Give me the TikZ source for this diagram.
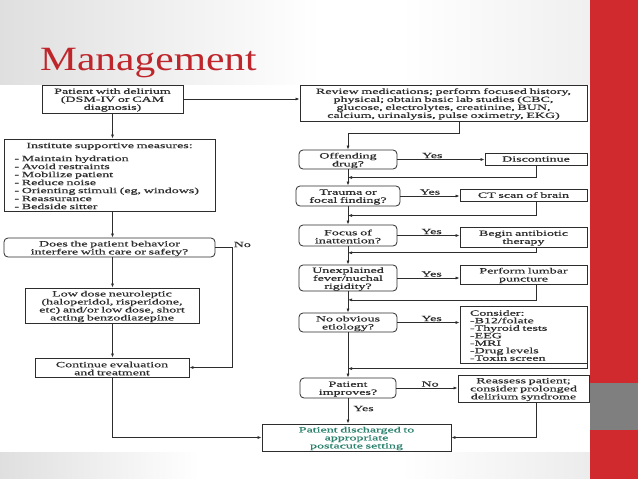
\documentclass[tikz,border=0pt]{standalone}
\usepackage{fontspec}
\usetikzlibrary{arrows.meta,calc}
\setmainfont{Liberation Serif}
\newfontfamily\flowfont[FakeStretch=1.75,FakeBold=0.6]{Liberation Serif}
\newfontfamily\titlefont[FakeStretch=1.22]{Liberation Serif}
\definecolor{slidered}{RGB}{208,41,46}
\definecolor{titlered}{RGB}{190,38,44}
\definecolor{bandgray}{RGB}{127,127,127}
\definecolor{inkgray}{RGB}{45,45,45}
\definecolor{tealtext}{RGB}{45,130,110}
\newcommand\boxdrop{\endgraf\vspace*{-2pt}}

\begin{document}
\begin{tikzpicture}[
    x=1pt, y=-1pt,
    box/.style={rectangle, draw=inkgray, line width=0.8pt, inner sep=1pt,
        font=\flowfont\fontsize{8}{8}\selectfont, text=inkgray, align=center,
        execute at end node=\boxdrop},
    decision/.style={box, rounded corners=4pt},
    lbl/.style={font=\flowfont\fontsize{8}{8}\selectfont, text=inkgray, inner sep=1pt},
    arrow/.style={-{Latex[length=4pt,width=3pt]}, draw=inkgray, line width=0.7pt},
    >=latex
]
\useasboundingbox (0,0) rectangle (638,479);

% Slide background
\fill[white] (0,0) rectangle (638,479);
\shade[left color=gray!25, right color=white] (0,0) rectangle (320,84);
\shade[left color=white, right color=gray!12] (400,0) rectangle (590,84);
\shade[left color=gray!25, right color=white] (0,452) rectangle (200,479);
\shade[left color=white, right color=gray!15] (400,452) rectangle (590,479);
\fill[slidered] (590,0) rectangle (638,479);
\fill[bandgray] (590,383) rectangle (638,430);

% Title
\node[anchor=base west, inner sep=0, text=titlered,
    font=\titlefont\fontsize{34}{34}\selectfont] (title) at (40,70) {Management};

% Left column
\node[box, minimum width=141, minimum height=28, text width=137] (start) at (112.5,99)
    {Patient with delirium\\(DSM-IV or CAM\\diagnosis)};
\node[box, minimum width=211, minimum height=72, text width=190, align=left] (support) at (109.5,175)
    {\makebox[190pt]{Institute supportive measures:}\\[5pt]
     - Maintain hydration\\
     - Avoid restraints\\
     - Mobilize patient\\
     - Reduce noise\\
     - Orienting stimuli (eg, windows)\\
     - Reassurance\\
     - Bedside sitter};
\node[decision, minimum width=211, minimum height=19, text width=205] (behave) at (109.5,247.5)
    {Does the patient behavior\\interfere with care or safety?};
\node[box, minimum width=174, minimum height=35, text width=170] (lowdose) at (112,305.5)
    {Low dose neuroleptic\\(haloperidol, risperidone,\\etc) and/or low dose, short\\acting benzodiazepine};
\node[box, minimum width=154, minimum height=19, text width=150] (cont) at (112,367.5)
    {Continue evaluation\\and treatment};

% Right column
\node[box, minimum width=287, minimum height=36, text width=283] (review) at (443.5,103)
    {Review medications; perform focused history,\\physical; obtain basic lab studies (CBC,\\glucose, electrolytes, creatinine, BUN,\\calcium, urinalysis, pulse oximetry, EKG)};
\node[decision, minimum width=98, minimum height=19, text width=94] (drug) at (348,159.5)
    {Offending\\drug?};
\node[box, minimum width=102, minimum height=12, text width=98] (discont) at (536,159)
    {Discontinue};
\node[decision, minimum width=104, minimum height=20, text width=100] (trauma) at (348,196)
    {Trauma or\\focal finding?};
\node[box, minimum width=127, minimum height=12, text width=123] (ct) at (523.5,195)
    {CT scan of brain};
\node[decision, minimum width=98, minimum height=21, text width=94] (focus) at (348,235.5)
    {Focus of\\inattention?};
\node[box, minimum width=127, minimum height=20, text width=123] (abx) at (523.5,237)
    {Begin antibiotic\\therapy};
\node[decision, minimum width=98, minimum height=26, text width=94] (fever) at (348,278)
    {Unexplained\\fever/nuchal\\rigidity?};
\node[box, minimum width=127, minimum height=19, text width=123] (lp) at (523.5,274.5)
    {Perform lumbar\\puncture};
\node[decision, minimum width=98, minimum height=19, text width=94] (etiol) at (348,322.5)
    {No obvious\\etiology?};
\node[box, minimum width=127, minimum height=57, text width=107, align=left,
    font=\flowfont\fontsize{8}{7.5}\selectfont] (consider) at (523.5,334.5)
    {Consider:\\-B12/folate\\-Thyroid tests\\-EEG\\-MRI\\-Drug levels\\-Toxin screen};
\node[decision, minimum width=96, minimum height=20, text width=92] (improves) at (348,388)
    {Patient\\improves?};
\node[box, minimum width=131, minimum height=27, text width=127] (reassess) at (523.5,388.5)
    {Reassess patient;\\consider prolonged\\delirium syndrome};
\node[box, minimum width=189, minimum height=27, text width=185, text=tealtext] (discharge) at (356.5,437.5)
    {Patient discharged to\\appropriate\\postacute setting};

% Left connections
\draw[arrow] (start.south) -- (start.south |- support.north);
\draw[arrow] (start.south |- support.south) -- (start.south |- behave.north);
\draw[arrow] (start.south |- behave.south) -- (start.south |- lowdose.north);
\draw[arrow] (start.south |- lowdose.south) -- (start.south |- cont.north);
\draw[arrow] (behave.east) -- ++(17,0) node[lbl, anchor=west, yshift=3pt] {No} |- (cont.east);
\draw[arrow] (cont.south) |- (discharge.west);

% Right connections
\draw[arrow] (start.east) -- (start.east -| review.west);
\draw[arrow] (review.south -| ct.west) -- ++(0,12) -| (drug.north);
\draw[arrow] (drug.east) -- node[lbl, above, pos=0.4] {Yes} (drug.east -| discont.west);
\draw[arrow] (discont.south) |- ($(drug.south)!0.5!(trauma.north)$);
\draw[arrow] (drug.south) -- (trauma.north);
\draw[arrow] (trauma.east) -- node[lbl, above, pos=0.5] {Yes} (trauma.east -| ct.west);
\draw[arrow] (ct.south -| discont.south) |- ($(trauma.south)!0.5!(focus.north)$);
\draw[arrow] (trauma.south) -- (focus.north);
\draw[arrow] (focus.east) -- node[lbl, above, pos=0.55] {Yes} (focus.east -| abx.west);
\draw[arrow] (abx.south -| discont.south) |- ($(focus.south)!0.35!(fever.north)$);
\draw[arrow] (focus.south) -- (fever.north);
\draw[arrow] (fever.east) -- node[lbl, above, pos=0.55] {Yes} (fever.east -| lp.west);
\draw[arrow] (lp.south -| discont.south) |- ($(fever.south)!0.4!(etiol.north)$);
\draw[arrow] (fever.south) -- (etiol.north);
\draw[arrow] (etiol.east) -- node[lbl, above, pos=0.55] {Yes} (etiol.east -| consider.west);
\draw[arrow] (consider.south east) |- ($(improves.north)+(0,-9)$);
\draw[arrow] (etiol.south) -- (improves.north);
\draw[arrow] (improves.east) -- node[lbl, above, pos=0.55] {No} (improves.east -| reassess.west);
\draw[arrow] (improves.south) -- node[lbl, right, pos=0.4, xshift=4pt] {Yes} (improves.south |- discharge.north);
\draw[arrow] (reassess.south -| discont.south) |- (discharge.east);

\end{tikzpicture}
\end{document}
